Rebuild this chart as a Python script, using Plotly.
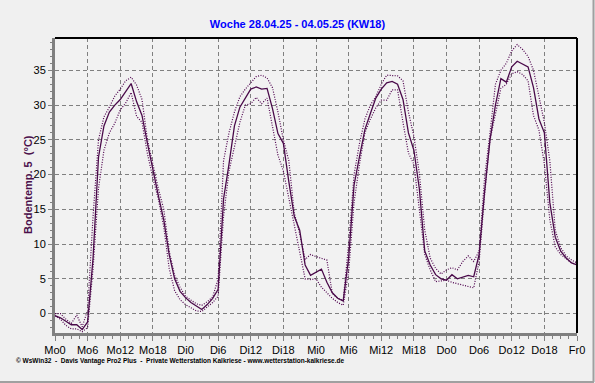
import plotly.graph_objects as go

hours = list(range(0, 97))

temp_mean = [-0.3, -0.6, -1.1, -1.6, -1.6, -2.3, -1.2, 8.0, 22.5, 27.0,
             29.0, 30.0, 30.8, 32.0, 33.1, 30.5, 28.5, 24.5, 20.5, 17.0,
             13.5, 8.5, 5.0, 3.2, 2.3, 1.6, 1.1, 0.6, 1.3, 2.2,
             3.5, 16.5, 21.5, 27.0, 29.7, 31.0, 32.3, 32.6, 32.3, 32.4,
             29.5, 25.9, 24.5, 19.0, 14.0, 12.0, 7.0, 5.5, 6.0, 6.4,
             4.5, 3.0, 2.2, 1.8, 8.0, 18.5, 22.6, 26.5, 28.8, 31.0,
             32.3, 33.2, 33.4, 33.0, 30.8, 26.0, 23.5, 18.0, 9.0, 7.0,
             5.6, 5.0, 4.8, 5.6, 5.0, 5.2, 5.5, 5.3, 8.5, 17.5,
             25.0, 30.0, 33.8, 33.3, 35.5, 36.3, 35.9, 35.5, 32.5, 28.0,
             26.0, 16.0, 11.0, 9.0, 8.0, 7.3, 7.0]

temp_max = [0.0, 0.0, -0.8, -1.4, -0.2, -1.9, 0.5, 14.0, 25.0, 28.3,
            29.7, 31.3, 32.3, 33.5, 34.0, 32.9, 30.8, 25.0, 21.5, 18.0,
            15.0, 9.0, 5.5, 3.8, 2.5, 1.9, 1.4, 1.2, 1.7, 2.4,
            5.0, 22.0, 26.0, 29.0, 31.2, 32.3, 33.2, 34.1, 34.3, 33.9,
            32.5, 29.0, 25.0, 22.0, 14.5, 11.5, 7.8, 8.5, 8.2, 8.0,
            7.7, 2.9, 2.2, 1.9, 10.0, 20.0, 24.5, 28.0, 30.0, 31.2,
            33.0, 34.3, 34.3, 34.2, 33.5, 29.0, 25.5, 20.2, 12.0, 8.0,
            6.5, 5.7, 6.3, 6.6, 6.3, 7.5, 8.3, 7.5, 9.0, 19.5,
            26.0, 33.0, 35.0, 36.0, 37.8, 38.7, 38.0, 37.0, 35.0, 31.0,
            27.5, 22.0, 12.0, 9.5, 8.3, 7.7, 7.3]

temp_min = [-0.3, -0.8, -1.7, -2.2, -2.2, -2.6, -2.0, 6.5, 18.0, 23.5,
            26.0, 27.4, 29.3, 30.3, 31.8, 28.4, 27.5, 23.0, 19.5, 16.5,
            12.5, 6.5, 3.3, 2.0, 1.3, 0.8, 0.4, 0.3, 1.0, 1.6,
            2.5, 14.0, 20.5, 24.0, 27.5, 30.0, 30.2, 31.1, 30.2, 31.0,
            27.0, 22.8, 20.5, 16.5, 13.0, 8.5, 5.0, 4.9, 5.0, 3.8,
            3.0, 2.2, 1.6, 1.2, 6.0, 16.0, 21.5, 26.0, 28.0, 29.6,
            30.7, 30.7, 32.2, 32.2, 27.5, 23.1, 21.5, 15.4, 8.5, 6.3,
            4.6, 4.7, 4.8, 4.5, 4.3, 4.2, 4.0, 3.7, 7.5, 17.0,
            25.0, 28.8, 32.4, 33.0, 34.5, 34.8, 34.4, 33.5, 28.5, 26.4,
            21.5, 13.5, 9.6, 8.5, 7.9, 7.3, 7.0]

tick_vals = list(range(0, 97, 6))
tick_text = ["Mo0", "Mo6", "Mo12", "Mo18", "Di0", "Di6", "Di12", "Di18",
             "Mi0", "Mi6", "Mi12", "Mi18", "Do0", "Do6", "Do12", "Do18", "Fr0"]

title_text = "Woche 28.04.25 - 04.05.25 (KW18)"
y_title = "Bodentemp. 5  (°C)"
footer = ("© WsWin32  -  Davis Vantage Pro2 Plus  -  Private Wetterstation Kalkriese"
          " - www.wetterstation-kalkriese.de")

dot_col = "#4e004e"
mean_col = "#4a0a4a"

L, R, T, B = 55, 18, 38, 50
W, H = 595, 383
pw, ph = W - L - R, H - T - B

def px_x(x):
    return (x - L) / pw

def px_y(y):
    return (H - B - y) / ph

fig = go.Figure()
fig.add_trace(go.Scatter(x=hours, y=temp_max, mode="lines",
                         line=dict(color=dot_col, width=1.2, dash="1px,1.5px"),
                         hoverinfo="skip"))
fig.add_trace(go.Scatter(x=hours, y=temp_min, mode="lines",
                         line=dict(color=dot_col, width=1.2, dash="1px,1.5px"),
                         hoverinfo="skip"))
fig.add_trace(go.Scatter(x=hours, y=temp_mean, mode="lines",
                         line=dict(color=mean_col, width=1.3)))

font_main = "Liberation Sans, Arial, sans-serif"

fig.update_layout(
    width=W, height=H,
    margin=dict(l=L, r=R, t=T, b=B, pad=0, autoexpand=False),
    paper_bgcolor="#f0f0f0",
    plot_bgcolor="#f2f2f2",
    showlegend=False,
    font=dict(family=font_main, size=11, color="#000000"),
    title=dict(text="<b>" + title_text + "</b>", x=0.5, xanchor="center", xref="container",
               y=1 - 24 / H, yanchor="middle", yref="container",
               font=dict(family=font_main, size=11, color="#0000ff")),
    xaxis=dict(range=[0, 96], tickmode="array", tickvals=tick_vals, ticktext=tick_text,
               showgrid=True, gridcolor="#808080", griddash="4px,3px", gridwidth=1,
               showline=True, linecolor="#808080", linewidth=3,
               ticks="outside", ticklen=5, tickcolor="#808080", tickwidth=1,
               minor=dict(dtick=1.5, tick0=0, ticks="outside", ticklen=3,
                          tickcolor="#808080", showgrid=False),
               zeroline=False, fixedrange=True, automargin=False,
               tickfont=dict(size=11, color="#000000")),
    yaxis=dict(range=[-2.79, 39.65], tickmode="linear", tick0=0, dtick=5,
               showgrid=True, gridcolor="#808080", griddash="4px,3px", gridwidth=1,
               showline=True, linecolor="#808080", linewidth=3,
               ticks="outside", ticklen=4, tickcolor="#808080", tickwidth=1,
               minor=dict(dtick=1, tick0=0, ticks="outside", ticklen=2,
                          tickcolor="#808080", showgrid=False),
               zeroline=False, fixedrange=True, automargin=False,
               tickfont=dict(size=11, color="#000000")),
)

# top and right black frame lines
fig.add_shape(type="line", xref="paper", yref="paper", x0=0, x1=1, y0=1, y1=1,
              line=dict(color="#000000", width=2))
fig.add_shape(type="line", xref="paper", yref="paper", x0=1, x1=1, y0=0, y1=1,
              line=dict(color="#000000", width=2))
# outer window border (right and bottom)
fig.add_shape(type="line", xref="paper", yref="paper", x0=px_x(593.5), x1=px_x(593.5),
              y0=px_y(382), y1=px_y(0), line=dict(color="#a0a0a0", width=2))
fig.add_shape(type="line", xref="paper", yref="paper", x0=px_x(0), x1=px_x(594),
              y0=px_y(382), y1=px_y(382), line=dict(color="#a0a0a0", width=2))

fig.add_annotation(text="<b>" + y_title + "</b>", xref="paper", yref="paper",
                   x=px_x(28), y=px_y(185), xanchor="center", yanchor="middle",
                   textangle=-90, showarrow=False,
                   font=dict(family=font_main, size=11, color="#4b0f4b"))

fig.add_annotation(text="<b>" + footer + "</b>", xref="paper", yref="paper",
                   x=px_x(14), y=px_y(361), xanchor="left", yanchor="middle",
                   showarrow=False, font=dict(family=font_main, size=6.5, color="#000000"))

fig.write_html("out.html", config={"displayModeBar": False},
               post_script="document.body.style.margin='0';document.body.style.overflow='hidden';")
